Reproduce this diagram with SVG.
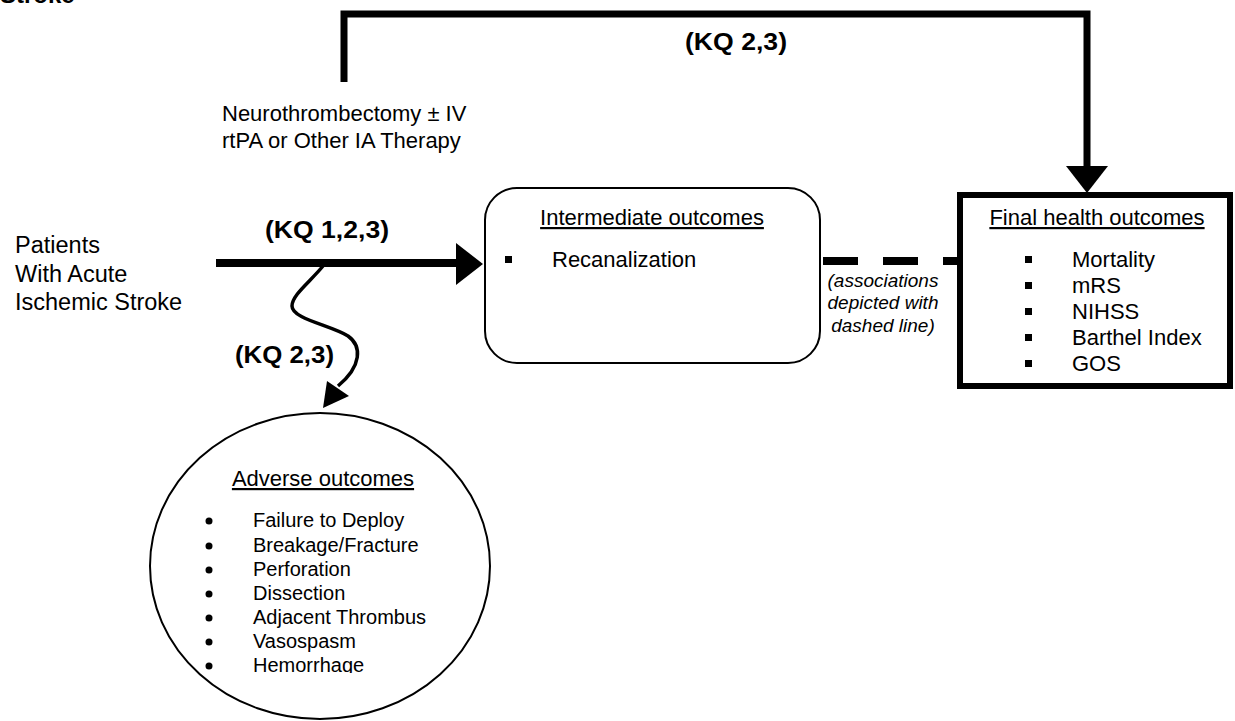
<svg xmlns="http://www.w3.org/2000/svg" width="1235" height="721" viewBox="0 0 1235 721">
<style>
text{font-family:"Liberation Sans",Arial,sans-serif;fill:#000}
.t{font-size:22px}
.b{font-size:24px;font-weight:bold}
.i{font-size:19px;font-style:italic}
.u{text-decoration:underline}
.s{font-size:20px}
.thick{fill:none;stroke:#000;stroke-width:7}
</style>
<defs>
<clipPath id="clipH"><rect x="0" y="0" width="1235" height="673"/></clipPath>
</defs>
<text x="0" y="3" style="font-size:24px;font-weight:bold">Stroke</text>

<g id="connectors">
<path class="thick" d="M344,82 L344,14 L1087,14 L1087,168"/>
<polygon points="1066,166 1108,166 1087,193"/>
<line x1="216" y1="263" x2="458" y2="263" stroke="#000" stroke-width="8"/>
<polygon points="456,243 483,264 456,285"/>
<path d="M323,266 C310,282 292,295 292,306 C292,319 330,325 348,336 C362,346 362,366 338,386" fill="none" stroke="#000" stroke-width="3.5"/>
<polygon points="327,381 349,396 323,408"/>
<line x1="823" y1="261" x2="958" y2="261" stroke="#000" stroke-width="8" stroke-dasharray="35 25"/>
<text class="b" x="685" y="50" textLength="102" lengthAdjust="spacingAndGlyphs">(KQ 2,3)</text>
<text class="b" x="265" y="238" textLength="124" lengthAdjust="spacingAndGlyphs">(KQ 1,2,3)</text>
<text class="b" x="235" y="363" textLength="99" lengthAdjust="spacingAndGlyphs">(KQ 2,3)</text>
<text class="i" text-anchor="middle" x="883" y="287">(associations</text>
<text class="i" text-anchor="middle" x="883" y="309">depicted with</text>
<text class="i" text-anchor="middle" x="883" y="332">dashed line)</text>
</g>

<g id="intervention">
<text class="t" x="222" y="121">Neurothrombectomy ± IV</text>
<text class="t" x="222" y="148">rtPA or Other IA Therapy</text>
</g>

<g id="patients">
<text style="font-size:23.5px" x="15" y="253">Patients</text>
<text style="font-size:23.5px" x="15" y="282">With Acute</text>
<text style="font-size:23.5px" x="15" y="310">Ischemic Stroke</text>
</g>

<g id="intermediate">
<rect x="485" y="188" width="335" height="175" rx="32" ry="32" fill="#fff" stroke="#000" stroke-width="2"/>
<text class="t u" text-anchor="middle" x="652" y="225">Intermediate outcomes</text>
<rect x="505" y="256" width="7" height="7"/>
<text class="t" x="552" y="267">Recanalization</text>
</g>

<g id="final">
<rect x="960" y="195" width="270" height="191" fill="#fff" stroke="#000" stroke-width="6"/>
<text class="t u" text-anchor="middle" x="1097" y="225">Final health outcomes</text>
<rect x="1025" y="256" width="7" height="7"/>
<text class="t" x="1072" y="267">Mortality</text>
<rect x="1025" y="282" width="7" height="7"/>
<text class="t" x="1072" y="293">mRS</text>
<rect x="1025" y="308" width="7" height="7"/>
<text class="t" x="1072" y="319">NIHSS</text>
<rect x="1025" y="334" width="7" height="7"/>
<text class="t" x="1072" y="345">Barthel Index</text>
<rect x="1025" y="360" width="7" height="7"/>
<text class="t" x="1072" y="371">GOS</text>
</g>

<g id="adverse">
<ellipse cx="320" cy="566" rx="170" ry="153" fill="#fff" stroke="#000" stroke-width="2"/>
<text class="t u" text-anchor="middle" x="323" y="486">Adverse outcomes</text>
<g class="s">
<circle cx="209" cy="521" r="3.5"/><text class="s" x="253" y="527">Failure to Deploy</text>
<circle cx="209" cy="546" r="3.5"/><text class="s" x="253" y="552">Breakage/Fracture</text>
<circle cx="209" cy="570" r="3.5"/><text class="s" x="253" y="576">Perforation</text>
<circle cx="209" cy="594" r="3.5"/><text class="s" x="253" y="600">Dissection</text>
<circle cx="209" cy="618" r="3.5"/><text class="s" x="253" y="624">Adjacent Thrombus</text>
<circle cx="209" cy="642" r="3.5"/><text class="s" x="253" y="648">Vasospasm</text>
<circle cx="209" cy="666" r="3.5"/><text class="s" x="253" y="672" clip-path="url(#clipH)">Hemorrhage</text>
</g>
</g>
</svg>
